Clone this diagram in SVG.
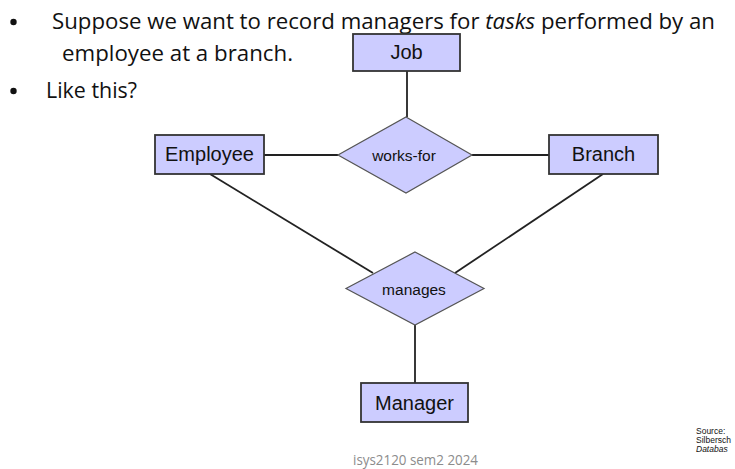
<svg xmlns="http://www.w3.org/2000/svg" width="735" height="469" viewBox="0 0 735 469">
<style>
.ent{fill:#ccccff;stroke:#333;stroke-width:1.8}
.rel{fill:#ccccff;stroke:#555;stroke-width:1.2}
.lbl{font-family:"Liberation Sans",Arial,sans-serif;fill:#111;text-anchor:middle}
.ent-t{font-size:20px}
.rel-t{font-size:15.5px}
.conn line{stroke:#222;stroke-width:1.8}
.body{font-family:"Open Sans","Liberation Sans",sans-serif;font-size:21px;fill:#111}
.src{font-family:"Liberation Sans",Arial,sans-serif;font-size:8.5px;fill:#111}
</style>
<rect width="735" height="469" fill="#fff"/>
<g id="text">
<circle cx="13.5" cy="22" r="3.2" fill="#111"/>
<text class="body" x="52" y="29" textLength="663" lengthAdjust="spacingAndGlyphs">Suppose we want to record managers for <tspan font-style="italic">tasks</tspan> performed by an</text>
<text class="body" x="62" y="61" textLength="231" lengthAdjust="spacingAndGlyphs">employee at a branch.</text>
<circle cx="13.5" cy="91" r="3.2" fill="#111"/>
<text class="body" x="46" y="98" textLength="91" lengthAdjust="spacingAndGlyphs">Like this?</text>
<text class="src" x="696" y="434">Source:</text>
<text class="src" x="696" y="443">Silbersch</text>
<text class="src" x="696" y="452" font-style="italic">Databas</text>
<text x="353" y="465" font-family="'Open Sans','Liberation Sans',sans-serif" font-size="14" fill="#8c8c8c" textLength="125" lengthAdjust="spacingAndGlyphs">isys2120 sem2 2024</text>
</g>
<g id="connectors" class="conn">
<line x1="407" y1="71" x2="407" y2="117"/>
<line x1="264" y1="155" x2="338" y2="155"/>
<line x1="472" y1="155" x2="549" y2="155"/>
<line x1="210" y1="174" x2="373" y2="273"/>
<line x1="603" y1="174" x2="455" y2="273"/>
<line x1="415" y1="325" x2="415" y2="383"/>
</g>
<g id="job">
<rect class="ent" x="353" y="34" width="107" height="37"/>
<text class="lbl ent-t" x="406.5" y="59">Job</text>
</g>
<g id="employee">
<rect class="ent" x="155" y="135" width="109" height="39"/>
<text class="lbl ent-t" x="209.5" y="161">Employee</text>
</g>
<g id="branch">
<rect class="ent" x="549" y="135" width="109" height="39"/>
<text class="lbl ent-t" x="603.5" y="161">Branch</text>
</g>
<g id="works-for">
<polygon class="rel" points="406,117 472,155 406,193 338,155"/>
<text class="lbl rel-t" x="404" y="161">works-for</text>
</g>
<g id="manages">
<polygon class="rel" points="415,252 484,288.5 415,325 346,288.5"/>
<text class="lbl rel-t" x="414" y="295">manages</text>
</g>
<g id="manager">
<rect class="ent" x="361" y="383" width="107" height="39"/>
<text class="lbl ent-t" x="414.5" y="410">Manager</text>
</g>
</svg>
